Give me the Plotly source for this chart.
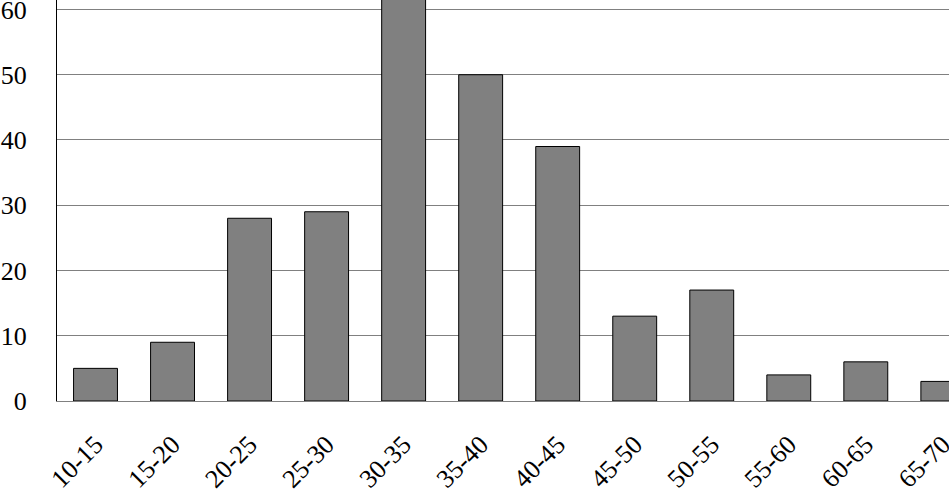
import plotly.graph_objects as go

categories = ["10-15", "15-20", "20-25", "25-30", "30-35", "35-40",
              "40-45", "45-50", "50-55", "55-60", "60-65", "65-70"]
counts = [5, 9, 28, 29, 62, 50, 39, 13, 17, 4, 6, 3]
y_ticks = [0, 10, 20, 30, 40, 50, 60]

fig = go.Figure(go.Bar(
    x=categories, y=counts,
    marker=dict(color="#808080", line=dict(color="black", width=1)),
))

font = dict(family="Liberation Serif, Times New Roman, serif", size=26, color="black")

fig.update_layout(
    width=949, height=493,
    margin=dict(l=57, r=0, t=0, b=92, autoexpand=False),
    paper_bgcolor="white", plot_bgcolor="white",
    bargap=0.43,
    showlegend=False,
    font=font,
)
fig.update_xaxes(
    type="category", range=[-0.5, 11.08], automargin=False,
    tickangle=-45, tickfont=font, ticklabeloverflow="allow",
    showline=True, linecolor="#808080", linewidth=1,
    showgrid=False, ticks="", ticklabelstandoff=17,
)
fig.update_yaxes(
    range=[0, 61.45], tickvals=y_ticks, tickfont=font, automargin=False,
    ticklabeloverflow="allow",
    showline=True, linecolor="black", linewidth=1,
    showgrid=True, gridcolor="#808080", gridwidth=1,
    zeroline=False, ticks="", ticklabelstandoff=24,
)

fig.write_html(
    "out.html",
    config={"displayModeBar": False},
    post_script="document.body.style.margin='0';document.body.style.overflow='hidden';",
)
